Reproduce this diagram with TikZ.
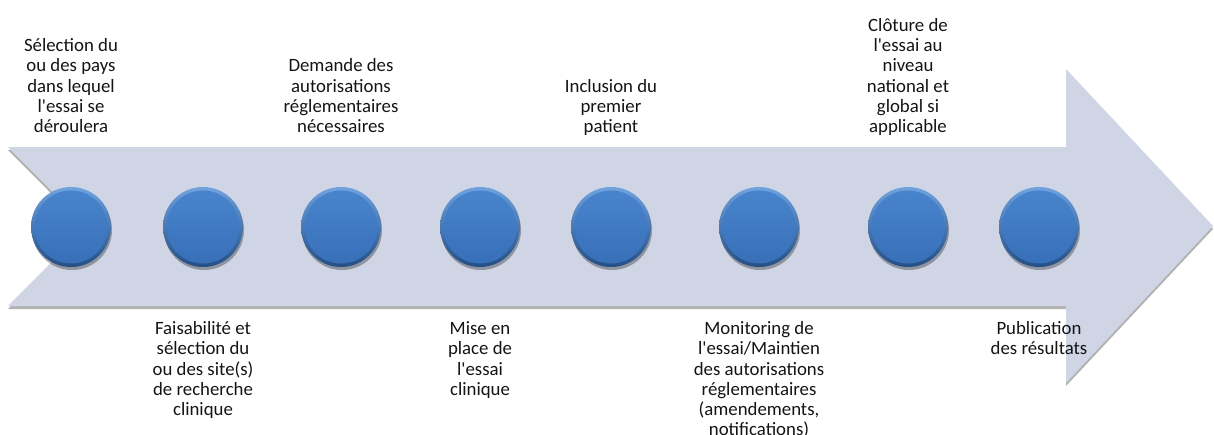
\documentclass[tikz,border=0pt]{standalone}
\usepackage{fontspec}
\setmainfont{Carlito}
\usetikzlibrary{shadows}
\definecolor{band}{RGB}{207,213,229}
\definecolor{balltop}{RGB}{112,162,222}
\definecolor{balldark}{RGB}{36,78,134}
\definecolor{facetop}{RGB}{72,132,204}
\definecolor{facebot}{RGB}{56,112,184}
\definecolor{txt}{RGB}{20,20,20}
\newcommand\aq{\textquotesingle}
\tikzset{
  ball/.style={circle, minimum size=80pt, inner sep=0pt, top color=balltop, bottom color=balldark,
    drop shadow={shadow xshift=1pt, shadow yshift=-3pt, opacity=0.3, fill=black}},
  ballface/.style={circle, minimum size=73pt, inner sep=0pt, top color=facetop, bottom color=facebot},
  lbl/.style={align=center, inner sep=0pt, text=txt, font=\fontsize{18.8}{20.3}\selectfont},
  above lbl/.style={lbl, anchor=south},
  below lbl/.style={lbl, anchor=north}
}
\begin{document}
\begin{tikzpicture}[x=1pt,y=-1pt]
\useasboundingbox (0,0) rectangle (1214,434);
% band arrow
\fill[band, drop shadow={shadow xshift=0pt, shadow yshift=-3pt, opacity=0.3, fill=black}]
  (8,147) -- (1066,147) -- (1066,69) -- (1213,226) -- (1066,383) -- (1066,306)
  -- (8,306) -- (87,226.5) -- cycle;
% balls
\foreach \i/\x in {1/71,2/203,3/341,4/480,5/611,6/759,7/908,8/1039}{
  \node[ball] (c\i) at (\x,227) {};
  \node[ballface] (f\i) at (c\i) {};
}
% labels
\node[above lbl] (t1) at (71,139) {Sélection du\\ou des pays\\dans lequel\\l\aq essai se\\déroulera\strut};
\node[below lbl] (t2) at (203,320) {\strut Faisabilité et\\sélection du\\ou des site(s)\\de recherche\\clinique};
\node[above lbl] (t3) at (341,139) {Demande des\\autorisations\\réglementaires\\nécessaires\strut};
\node[below lbl] (t4) at (480,320) {\strut Mise en\\place de\\l\aq essai\\clinique};
\node[above lbl] (t5) at (611,139) {Inclusion du\\premier\\patient\strut};
\node[below lbl] (t6) at (759,320) {\strut Monitoring de\\l\aq essai/Maintien\\des autorisations\\réglementaires\\(amendements,\\notifications)};
\node[above lbl] (t7) at (908,139) {Clôture de\\l\aq essai au\\niveau\\national et\\global si\\applicable\strut};
\node[below lbl] (t8) at (1039,320) {\strut Publication\\des résultats};
\end{tikzpicture}
\end{document}
